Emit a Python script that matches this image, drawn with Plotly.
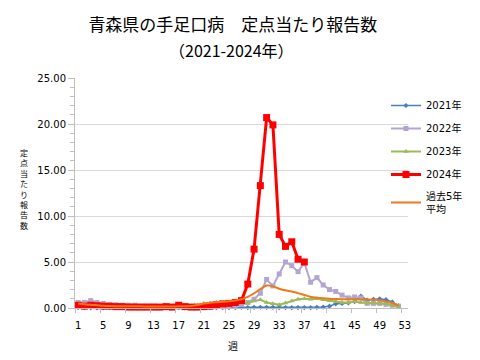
import plotly.graph_objects as go

weeks = list(range(1, 54))

y2021 = [0.05, 0.03, 0.02, 0.02, 0.02, 0.03, 0.02, 0.02, 0.03, 0.02,
         0.02, 0.03, 0.02, 0.02, 0.02, 0.03, 0.02, 0.02, 0.03, 0.02,
         0.03, 0.05, 0.03, 0.05, 0.03, 0.05, 0.07, 0.05, 0.07, 0.08,
         0.07, 0.07, 0.05, 0.05, 0.03, 0.05, 0.05, 0.03, 0.07, 0.1,
         0.2, 0.45, 0.5, 0.55, 0.7, 1.3, 0.85, 0.95, 1.0, 0.9,
         0.65, 0.25]

y2022 = [0.6, 0.6, 0.8, 0.6, 0.5, 0.35, 0.35, 0.3, 0.3, 0.3,
         0.2, 0.2, 0.2, 0.15, 0.15, 0.1, 0.1, 0.1, 0.1, 0.1,
         0.1, 0.1, 0.15, 0.15, 0.2, 0.3, 0.4, 0.6, 0.95, 1.6,
         3.1, 2.4, 3.7, 5.0, 4.6, 3.95, 4.9, 2.8, 3.3, 2.5,
         2.0, 1.8, 1.4, 1.1, 1.2, 1.1, 0.5, 0.5, 0.5, 0.4,
         0.3, 0.2]

y2023 = [0.05, 0.05, 0.05, 0.1, 0.1, 0.1, 0.1, 0.1, 0.1, 0.1,
         0.05, 0.05, 0.05, 0.05, 0.05, 0.05, 0.1, 0.1, 0.15, 0.25,
         0.5, 0.55, 0.6, 0.55, 0.6, 0.6, 0.6, 0.55, 0.75, 0.9,
         0.6, 0.45, 0.35, 0.55, 0.75, 0.95, 1.0, 0.95, 1.0, 0.9,
         0.8, 0.7, 0.6, 0.6, 0.7, 0.6, 0.55, 0.55, 0.5, 0.45,
         0.3, 0.1]

y2024 = [0.3, 0.2, 0.3, 0.25, 0.2, 0.2, 0.15, 0.15, 0.1, 0.1,
         0.1, 0.1, 0.1, 0.1, 0.15, 0.1, 0.3, 0.15, 0.1, 0.1,
         0.15, 0.2, 0.35, 0.45, 0.5, 0.6, 0.8, 2.6, 6.4, 13.3,
         20.7, 19.9, 8.0, 6.7, 7.2, 5.3, 5.0]

avg5 = [0.5, 0.42, 0.35, 0.3, 0.25, 0.22, 0.2, 0.2, 0.18, 0.18,
        0.18, 0.17, 0.17, 0.17, 0.17, 0.17, 0.18, 0.2, 0.22, 0.32,
        0.48, 0.58, 0.63, 0.68, 0.74, 0.82, 0.95, 1.2, 1.6, 2.05,
        2.45, 2.35, 2.1, 1.92, 1.8, 1.62, 1.42, 1.22, 1.12, 1.05,
        1.0, 0.97, 0.95, 0.95, 0.95, 0.93, 0.92, 0.9, 0.85, 0.72,
        0.55, 0.25]

x_ticks = list(range(1, 54, 4))
y_ticks = [0, 5, 10, 15, 20, 25]

names = ["2021年", "2022年", "2023年", "2024年", "過去5年<br>平均"]
y_title = "定点当たり報告数"

FONT = "DejaVu Sans, Noto Sans CJK JP, sans-serif"
JFONT = "Noto Sans CJK JP, sans-serif"

# page has an 8px body margin; figure is sized to fit the window
OFF = 8
W, H = 480 - OFF, 360 - OFF
PL, PR, PT, PB = 75, 423, 78, 308     # plot area in window pixels
PW, PH = PR - PL, PB - PT


def px_x(x):
    return (x - PL) / PW


def px_y(y):
    return (PB - y) / PH


fig = go.Figure()

fig.add_trace(go.Scatter(
    x=weeks[:len(y2021)], y=y2021, name=names[0], legendgroup="a",
    mode="lines+markers", line=dict(color="#4a7ebb", width=1.5),
    marker=dict(symbol="diamond", size=4, color="#4a7ebb"), cliponaxis=False))
fig.add_trace(go.Scatter(
    x=weeks[:len(y2022)], y=y2022, name=names[1], legendgroup="b",
    mode="lines+markers", line=dict(color="#b3a5d3", width=2),
    marker=dict(symbol="square", size=5, color="#b3a5d3"), cliponaxis=False))
fig.add_trace(go.Scatter(
    x=weeks[:len(y2023)], y=y2023, name=names[2], legendgroup="c",
    mode="lines+markers", line=dict(color="#9bbb59", width=2),
    marker=dict(symbol="triangle-up", size=5, color="#9bbb59"), cliponaxis=False))
fig.add_trace(go.Scatter(
    x=weeks[:len(y2024)], y=y2024, name=names[3], legendgroup="d",
    mode="lines+markers", line=dict(color="#ff0000", width=3),
    marker=dict(symbol="square", size=7, color="#ff0000"), cliponaxis=False))
fig.add_trace(go.Scatter(
    x=weeks[:len(avg5)], y=avg5, name=names[4], legendgroup="e",
    mode="lines", line=dict(color="#f07818", width=2, shape="spline"),
    cliponaxis=False))

annotations = [
    dict(text="（2021-2024年）", xref="paper", yref="paper",
         x=px_x(239), y=px_y(50), xanchor="center", yanchor="middle",
         showarrow=False, font=dict(family=JFONT, size=16, color="#000000")),
    dict(text="週", xref="paper", yref="paper",
         x=px_x(240), y=px_y(345), xanchor="center", yanchor="middle",
         showarrow=False, font=dict(family=JFONT, size=10, color="#000000")),
    dict(text="<br>".join(y_title), xref="paper", yref="paper",
         x=px_x(22), y=px_y(189), xanchor="center", yanchor="middle",
         showarrow=False, font=dict(family=JFONT, size=8, color="#000000")),
]

fig.update_layout(
    width=W, height=H,
    margin=dict(l=PL - OFF, r=480 - PR, t=PT - OFF, b=360 - PB),
    paper_bgcolor="white", plot_bgcolor="white",
    font=dict(family=FONT, size=10, color="#000000"),
    title=dict(text="青森県の手足口病　定点当たり報告数", x=px_x(240), xref="paper",
               xanchor="center", y=1 - (25 - OFF) / H, yanchor="middle",
               font=dict(family=JFONT, size=17, color="#000000")),
    showlegend=True,
    legend=dict(x=px_x(400), y=px_y(91), xanchor="left", yanchor="top",
                bgcolor="rgba(0,0,0,0)", tracegroupgap=4,
                font=dict(family=FONT, size=10, color="#000000")),
    annotations=annotations,
)

fig.update_xaxes(
    range=[0.5, 53.5], tickmode="array", tickvals=x_ticks,
    ticktext=[str(v) for v in x_ticks], ticks="", showgrid=False,
    showline=True, linecolor="#bfbfbf", linewidth=1, zeroline=False,
    tickfont=dict(size=10), ticklabelstandoff=8,
    minor=dict(ticks="outside", tick0=0.5, dtick=4, ticklen=4,
               tickcolor="#bfbfbf", showgrid=False),
)
fig.update_yaxes(
    range=[0, 25], tickmode="array", tickvals=y_ticks, tickformat=".2f",
    ticks="outside", ticklen=6, tickcolor="#bfbfbf",
    showgrid=True, gridcolor="#d9d9d9", gridwidth=1,
    showline=True, linecolor="#bfbfbf", linewidth=1, zeroline=False,
    tickfont=dict(size=10),
    minor=dict(ticks="outside", dtick=1, ticklen=4, tickcolor="#bfbfbf",
               showgrid=False),
)

fig.write_html("out.html")
